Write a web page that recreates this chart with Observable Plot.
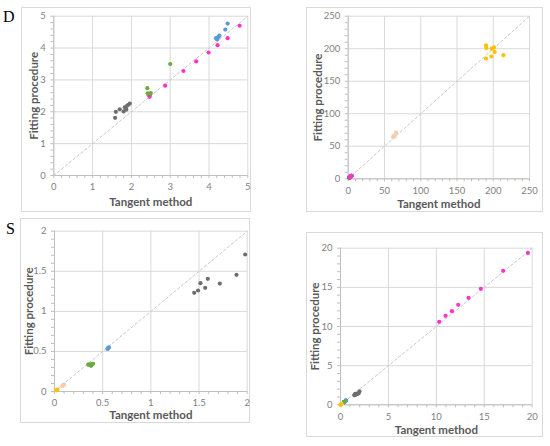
<!DOCTYPE html>
<html><head><meta charset="utf-8">
<script src="https://cdn.jsdelivr.net/npm/d3@7"></script>
<script src="https://cdn.jsdelivr.net/npm/@observablehq/plot@0.6"></script>
<style>
body{margin:0;background:#fff;}
#wrap{position:relative;width:550px;height:446px;overflow:hidden;}
.box{position:absolute;border:1px solid #d9d9d9;box-sizing:border-box;}
.letter{position:absolute;font-family:"Liberation Serif","DejaVu Serif",serif;font-size:16px;line-height:16px;color:#000;}
.chart{position:absolute;}
</style></head><body><div id="wrap"></div>
<script>
// ---- Data: D (panels top) ----
const dGrayTan    = [1.58, 1.60, 1.70, 1.80, 1.83, 1.87, 1.88, 1.92, 1.96];
const dGrayFit    = [1.81, 2.00, 2.08, 2.01, 2.14, 2.07, 2.18, 2.22, 2.26];
const dGreenTan   = [2.41, 2.42, 2.44, 2.45, 2.47, 2.48, 2.50, 3.00];
const dGreenFit   = [2.74, 2.58, 2.55, 2.52, 2.50, 2.56, 2.59, 3.50];
const dMagentaTan = [2.47, 2.87, 3.34, 3.67, 3.99, 4.22, 4.48, 4.79];
const dMagentaFit = [2.47, 2.82, 3.28, 3.58, 3.86, 4.09, 4.31, 4.70];
const dBlueTan    = [4.18, 4.21, 4.22, 4.24, 4.27, 4.42, 4.48];
const dBlueFit    = [4.31, 4.27, 4.32, 4.35, 4.39, 4.58, 4.77];
const dPeachTan   = [62, 63, 64, 66];
const dPeachFit   = [64, 66, 65, 71];
const dOrangeTan  = [190, 190.5, 198, 201, 202, 214, 197.5, 190];
const dOrangeFit  = [205, 201, 200, 202, 195, 190, 188, 185];

// ---- Data: S (panels bottom) ----
const sGrayTan    = [1.45, 1.49, 1.515, 1.564, 1.591, 1.716, 1.889, 1.979];
const sGrayFit    = [1.231, 1.26, 1.351, 1.294, 1.406, 1.347, 1.456, 1.709];
const sBlueTan    = [0.55, 0.555, 0.56, 0.565];
const sBlueFit    = [0.53, 0.54, 0.545, 0.55];
const sGreenTan   = [0.35, 0.36, 0.37, 0.38, 0.39, 0.40];
const sGreenFit   = [0.335, 0.34, 0.33, 0.32, 0.345, 0.345];
const sPeachTan   = [0.08, 0.09, 0.10];
const sPeachFit   = [0.07, 0.08, 0.085];
const sOrangeTan  = [0.02, 0.025, 0.03];
const sOrangeFit  = [0.015, 0.02, 0.025];
const sMagentaTan = [10.30, 10.96, 11.62, 12.28, 13.36, 14.64, 16.97, 19.55];
const sMagentaFit = [10.60, 11.36, 11.96, 12.77, 13.66, 14.81, 17.11, 19.40];

// ---- Ticks ----
const ticksA = [0, 1, 2, 3, 4, 5];
const ticksB = [0, 50, 100, 150, 200, 250];
const ticksC = [0, 0.5, 1, 1.5, 2];
const ticksE = [0, 5, 10, 15, 20];

const xTitle = "Tangent method";
const yTitle = "Fitting procedure";

const colors = {gray:"#6e6e6e", green:"#6aab3c", magenta:"#ff33cc", blue:"#5b9bd5", peach:"#f8cbad", orange:"#ffc000"};

function pts(tan, fit, color) { return {data: tan.map((t, i) => ({t, f: fit[i]})), color}; }

function minorTicks(majors, n) {
  const out = [];
  for (let i = 0; i < majors.length - 1; i++) {
    const a = majors[i], b = majors[i + 1];
    for (let k = 0; k < n; k++) out.push(a + (b - a) * k / n);
  }
  out.push(majors[majors.length - 1]);
  return out;
}

function panel(cfg) {
  const wrap = document.getElementById("wrap");
  const box = document.createElement("div");
  box.className = "box";
  Object.assign(box.style, {left: cfg.left + "px", top: cfg.top + "px", width: cfg.width + "px", height: cfg.height + "px"});
  wrap.appendChild(box);
  const max = cfg.majors[cfg.majors.length - 1];
  const minors = minorTicks(cfg.majors, cfg.nMinor);
  const fmt = d => String(d);
  const chart = Plot.plot({
    width: cfg.width, height: cfg.height,
    marginLeft: cfg.m[0], marginRight: cfg.m[1], marginTop: cfg.m[2], marginBottom: cfg.m[3],
    x: {domain: [0, max]}, y: {domain: [0, max]},
    style: {fontFamily: "Lato, 'Open Sans', sans-serif", fontSize: "9.5px", color: "#7f7f7f", background: "transparent", overflow: "visible"},
    marks: [
      Plot.gridX(cfg.majors, {stroke: "#d9d9d9", strokeOpacity: 1}),
      Plot.gridY(cfg.majors, {stroke: "#d9d9d9", strokeOpacity: 1}),
      Plot.ruleX([0], {stroke: "#bfbfbf"}),
      Plot.ruleY([0], {stroke: "#bfbfbf"}),
      Plot.axisX(minors, {tickSize: 3, tickFormat: () => "", label: null, stroke: "#bfbfbf"}),
      Plot.axisY(minors, {tickSize: 3, tickFormat: () => "", label: null, stroke: "#bfbfbf"}),
      Plot.axisX(cfg.majors, {tickSize: 0, tickPadding: 8, tickFormat: fmt, label: null, fill: "#7f7f7f"}),
      Plot.axisY(cfg.majors, {tickSize: 0, tickPadding: 8, tickFormat: fmt, label: null, fill: "#7f7f7f"}),
      Plot.line([0, max], {x: d => d, y: d => d, stroke: "#c8c8c8", strokeWidth: 1, strokeDasharray: "2.5,2.5"}),
      ...cfg.series.map(s => Plot.dot(s.data, {x: "t", y: "f", r: 2.1, fill: s.color, stroke: "none"})),
      Plot.text([xTitle], {text: d => d, frameAnchor: "bottom", dy: cfg.xdy, fontWeight: "bold", fontSize: 11.5, fill: "#595959", lineAnchor: "middle", textAnchor: "middle"}),
      Plot.text([yTitle], {text: d => d, frameAnchor: "left", dx: cfg.ydx, rotate: -90, fontWeight: "bold", fontSize: 11.5, fill: "#595959", lineAnchor: "middle", textAnchor: "middle"})
    ]
  });
  chart.classList.add("chart");
  chart.style.left = cfg.left + "px";
  chart.style.top = cfg.top + "px";
  wrap.appendChild(chart);
}

function letter(txt, left, top) {
  const el = document.createElement("div");
  el.className = "letter";
  el.textContent = txt;
  el.style.left = left + "px"; el.style.top = top + "px";
  document.getElementById("wrap").appendChild(el);
}

panel({left: 21, top: 7, width: 230, height: 205, m: [32.3, 3.7, 8.7, 37], majors: ticksA, nMinor: 5, xdy: 26.7, ydx: -19,
  series: [pts(dGrayTan, dGrayFit, colors.gray), pts(dGreenTan, dGreenFit, colors.green), pts(dMagentaTan, dMagentaFit, colors.magenta), pts(dBlueTan, dBlueFit, colors.blue)]});
panel({left: 306, top: 7, width: 237, height: 205, m: [41.7, 14, 8.7, 33.7], majors: ticksB, nMinor: 5, xdy: 25.7, ydx: -30,
  series: [pts(dGrayTan, dGrayFit, colors.gray), pts(dGreenTan, dGreenFit, colors.green), pts(dBlueTan, dBlueFit, colors.blue), pts(dPeachTan, dPeachFit, colors.peach), pts(dOrangeTan, dOrangeFit, colors.orange), pts(dMagentaTan, dMagentaFit, colors.magenta)]});
panel({left: 20, top: 218, width: 230, height: 205, m: [34, 3.3, 12.7, 32], majors: ticksC, nMinor: 5, xdy: 24, ydx: -24.7,
  series: [pts(sGrayTan, sGrayFit, colors.gray), pts(sBlueTan, sBlueFit, colors.blue), pts(sGreenTan, sGreenFit, colors.green), pts(sPeachTan, sPeachFit, colors.peach), pts(sOrangeTan, sOrangeFit, colors.orange)]});
panel({left: 306, top: 232, width: 237, height: 205, m: [34, 11.3, 15.7, 32.7], majors: ticksE, nMinor: 5, xdy: 25.7, ydx: -25,
  series: [pts(sGrayTan, sGrayFit, colors.gray), pts(sBlueTan, sBlueFit, colors.blue), pts(sGreenTan, sGreenFit, colors.green), pts(sPeachTan, sPeachFit, colors.peach), pts(sOrangeTan, sOrangeFit, colors.orange), pts(sMagentaTan, sMagentaFit, colors.magenta)]});

letter("D", 3, 8.6);
letter("S", 6, 220.6);
</script></body></html>
